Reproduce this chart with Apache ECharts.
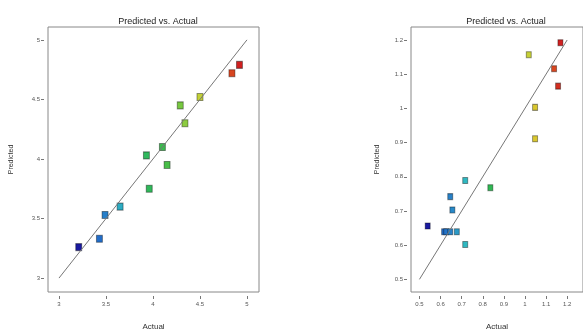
<!DOCTYPE html>
<html>
<head>
<meta charset="utf-8">
<script src="https://cdn.jsdelivr.net/npm/echarts@6/dist/echarts.min.js"></script>
<style>
  html, body { margin: 0; padding: 0; background: #fff; }
  #chart { width: 583px; height: 336px; }
</style>
</head>
<body>
<div id="chart"></div>
<script>
// left panel: actual / predicted
var leftActual    = [3.21, 3.43, 3.49, 3.65, 3.93, 3.96, 4.10, 4.15, 4.29, 4.34, 4.50, 4.84, 4.92];
var leftPredicted = [3.26, 3.33, 3.53, 3.60, 4.03, 3.75, 4.10, 3.95, 4.45, 4.30, 4.52, 4.72, 4.79];
var leftTicks = [3, 3.5, 4, 4.5, 5];
var leftDiag = [3, 5];

// right panel
var rightActual    = [1.168, 1.018, 1.138, 1.157, 1.048, 1.048, 0.717, 0.836, 0.646, 0.656, 0.539, 0.617, 0.627, 0.646, 0.677, 0.717];
var rightPredicted = [1.192, 1.157, 1.116, 1.065, 1.003, 0.911, 0.789, 0.768, 0.742, 0.703, 0.656, 0.639, 0.639, 0.639, 0.639, 0.602];
var rightTicks = [0.5, 0.6, 0.7, 0.8, 0.9, 1, 1.1, 1.2];
var rightDiag = [0.5, 1.2];

// blue -> cyan -> green -> yellow -> red, like the design software
var rainbow = ['#1a1aa0', '#1f5fc8', '#2a90c8', '#30c0c0', '#30b860', '#30b850',
               '#60c440', '#a8d040', '#d8d030', '#e07020', '#d02020'];

function pairs(xs, ys) {
  var out = [];
  for (var i = 0; i < xs.length; i++) out.push([xs[i], ys[i]]);
  return out;
}
function diag(d) {
  return [[d[0], d[0]], [d[1], d[1]]];
}

var font = 'Liberation Sans Narrow, Liberation Sans, sans-serif';
var labelStyle = { fontSize: 6, color: '#555', fontFamily: font };

function xAx(idx, min, max, ticks) {
  return {
    type: 'value', gridIndex: idx, min: min, max: max,
    offset: 4, splitLine: { show: false },
    axisLine: { show: false },
    axisTick: { show: true, length: 3, customValues: ticks, lineStyle: { color: '#777' } },
    axisLabel: Object.assign({ margin: 5, customValues: ticks }, labelStyle),
    name: 'Actual', nameLocation: 'middle', nameGap: 27,
    nameTextStyle: { fontSize: 8, color: '#333', fontFamily: font }
  };
}
function yAx(idx, min, max, ticks, gap) {
  return {
    type: 'value', gridIndex: idx, min: min, max: max,
    offset: 4, splitLine: { show: false },
    axisLine: { show: false },
    axisTick: { show: true, length: 3, customValues: ticks, lineStyle: { color: '#777' } },
    axisLabel: Object.assign({ margin: 4, customValues: ticks }, labelStyle),
    name: 'Predicted', nameLocation: 'middle', nameGap: gap,
    nameTextStyle: { fontSize: 7, color: '#333', fontFamily: font }
  };
}

var chart = echarts.init(document.getElementById('chart'));
chart.setOption({
  backgroundColor: '#fff',
  animation: false,
  title: [
    { text: 'Predicted vs. Actual', left: 153, top: 12, textAlign: 'center',
      textStyle: { fontSize: 9, fontWeight: 'normal', color: '#222', fontFamily: font } },
    { text: 'Predicted vs. Actual', left: 501, top: 12, textAlign: 'center',
      textStyle: { fontSize: 9, fontWeight: 'normal', color: '#222', fontFamily: font } }
  ],
  grid: [
    { left: 48, top: 27, width: 211, height: 267, show: true, borderColor: '#888', borderWidth: 1, backgroundColor: '#fff' },
    { left: 411, top: 27, width: 190, height: 272, show: true, borderColor: '#888', borderWidth: 1, backgroundColor: '#fff' }
  ],
  xAxis: [
    xAx(0, 2.883, 5.128, leftTicks),
    xAx(1, 0.46, 1.275, rightTicks)
  ],
  yAxis: [
    yAx(0, 2.883, 5.108, leftTicks, 29),
    yAx(1, 0.463, 1.238, rightTicks, 26)
  ],
  visualMap: [
    { show: false, type: 'continuous', seriesIndex: 1, dimension: 0, min: 3.21, max: 4.92, inRange: { color: rainbow } },
    { show: false, type: 'continuous', seriesIndex: 3, dimension: 0, min: 0.539, max: 1.168, inRange: { color: rainbow } }
  ],
  series: [
    { type: 'line', xAxisIndex: 0, yAxisIndex: 0, data: diag(leftDiag), symbol: 'none',
      lineStyle: { color: '#777', width: 1 }, silent: true },
    { type: 'scatter', xAxisIndex: 0, yAxisIndex: 0, data: pairs(leftActual, leftPredicted),
      symbol: 'rect', symbolSize: [6, 7],
      itemStyle: { borderColor: 'rgba(0,0,0,0.4)', borderWidth: 1, opacity: 1 } },
    { type: 'line', xAxisIndex: 1, yAxisIndex: 1, data: diag(rightDiag), symbol: 'none',
      lineStyle: { color: '#777', width: 1 }, silent: true },
    { type: 'scatter', xAxisIndex: 1, yAxisIndex: 1, data: pairs(rightActual, rightPredicted),
      symbol: 'rect', symbolSize: [5, 6],
      itemStyle: { borderColor: 'rgba(0,0,0,0.4)', borderWidth: 1, opacity: 1 } }
  ]
});
</script>
</body>
</html>
